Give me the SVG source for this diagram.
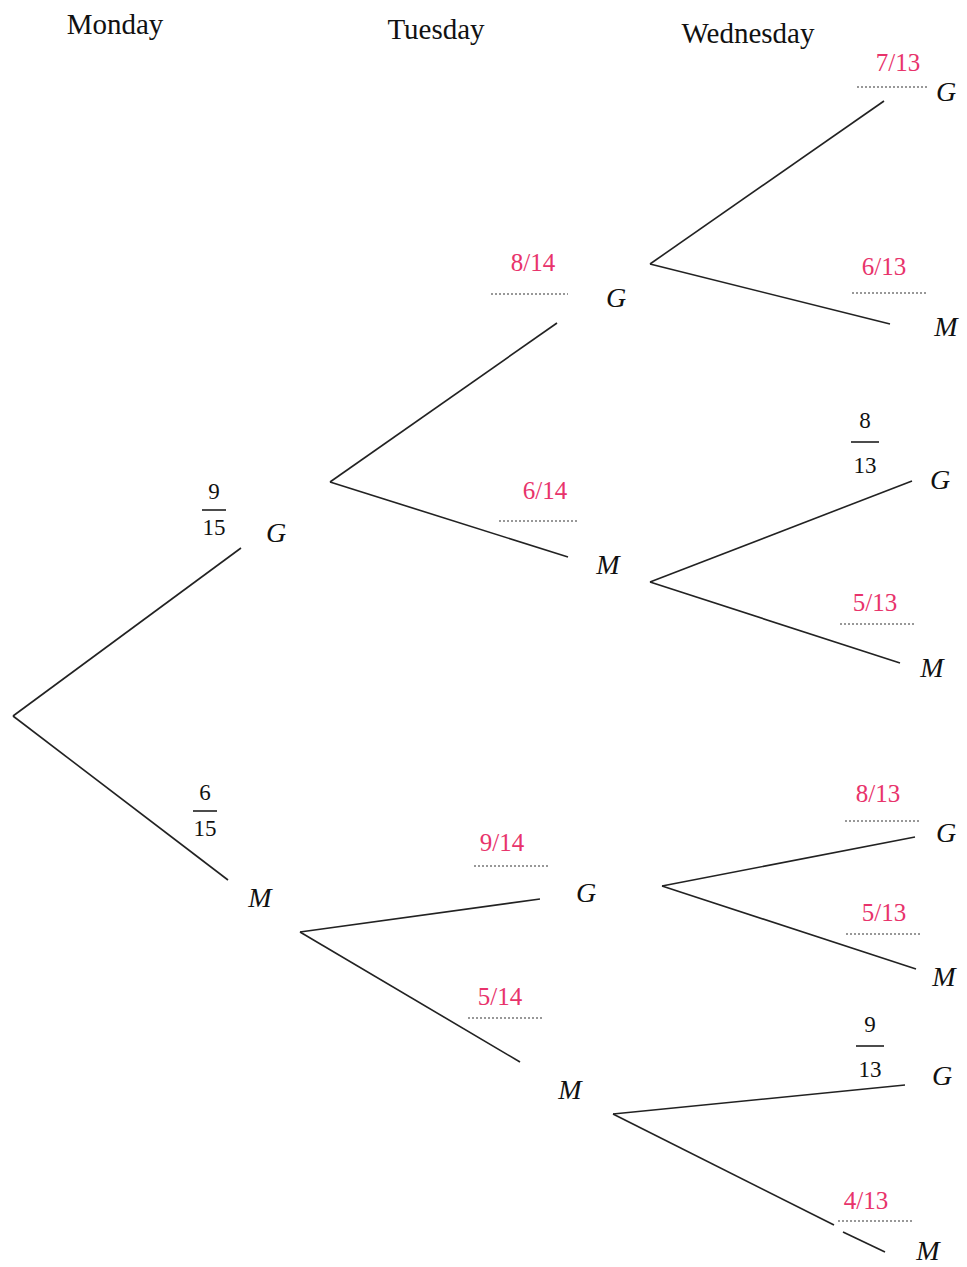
<svg xmlns="http://www.w3.org/2000/svg" width="967" height="1267" viewBox="0 0 967 1267" font-family="'Liberation Serif', 'Times New Roman', Times, serif">
<style>
text{font-family:'Liberation Serif','Times New Roman',Times,serif}
.h{font-size:29px;fill:#111;text-anchor:middle}
.n{font-size:28px;font-style:italic;fill:#111;text-anchor:middle}
.p{font-size:25px;fill:#e8336b;text-anchor:middle}
.f{font-size:23px;fill:#111;text-anchor:middle}
.d{stroke:#777;stroke-width:1.5;stroke-dasharray:2 2;fill:none}
.e{stroke:#222;stroke-width:1.6;fill:none}
.b{stroke:#111;stroke-width:1.5}
</style>
<rect width="967" height="1267" fill="#fff"/>
<g id="headers">
<text class="h" x="115" y="34">Monday</text>
<text class="h" x="436" y="39">Tuesday</text>
<text class="h" x="748" y="43">Wednesday</text>
</g>
<g id="connectors">
<line class="e" x1="13" y1="716" x2="241" y2="548"/>
<line class="e" x1="13" y1="716" x2="228" y2="880"/>
<line class="e" x1="330" y1="482" x2="557" y2="323"/>
<line class="e" x1="330" y1="482" x2="568" y2="557"/>
<line class="e" x1="650" y1="264" x2="884" y2="101"/>
<line class="e" x1="650" y1="264" x2="890" y2="324"/>
<line class="e" x1="650" y1="582" x2="912" y2="481"/>
<line class="e" x1="650" y1="582" x2="900" y2="663"/>
<line class="e" x1="300" y1="932" x2="540" y2="899"/>
<line class="e" x1="300" y1="932" x2="520" y2="1062"/>
<line class="e" x1="662" y1="886" x2="915" y2="837"/>
<line class="e" x1="662" y1="886" x2="916" y2="969"/>
<line class="e" x1="613" y1="1114" x2="905" y2="1085"/>
<line class="e" x1="613" y1="1114" x2="834" y2="1225"/>
<line class="e" x1="843" y1="1232" x2="885" y2="1252"/>
</g>
<g id="mon-G">
<text class="n" x="276" y="542">G</text>
<text class="f" x="214" y="499">9</text>
<line class="b" x1="202" y1="510" x2="226" y2="510"/>
<text class="f" x="214" y="535">15</text>
</g>
<g id="mon-M">
<text class="n" x="260" y="907">M</text>
<text class="f" x="205" y="800">6</text>
<line class="b" x1="193" y1="811" x2="217" y2="811"/>
<text class="f" x="205" y="836">15</text>
</g>
<g id="tue-GG">
<text class="n" x="616" y="307">G</text>
<text class="p" x="533" y="271">8/14</text>
<line class="d" x1="491" y1="294" x2="568" y2="294"/>
</g>
<g id="tue-GM">
<text class="n" x="608" y="574">M</text>
<text class="p" x="545" y="499">6/14</text>
<line class="d" x1="499" y1="521" x2="577" y2="521"/>
</g>
<g id="tue-MG">
<text class="n" x="586" y="902">G</text>
<text class="p" x="502" y="851">9/14</text>
<line class="d" x1="474" y1="866" x2="550" y2="866"/>
</g>
<g id="tue-MM">
<text class="n" x="570" y="1099">M</text>
<text class="p" x="500" y="1005">5/14</text>
<line class="d" x1="468" y1="1018" x2="544" y2="1018"/>
</g>
<g id="wed-GGG">
<text class="n" x="946" y="101">G</text>
<text class="p" x="898" y="71">7/13</text>
<line class="d" x1="857" y1="87" x2="927" y2="87"/>
</g>
<g id="wed-GGM">
<text class="n" x="946" y="336">M</text>
<text class="p" x="884" y="275">6/13</text>
<line class="d" x1="852" y1="293" x2="928" y2="293"/>
</g>
<g id="wed-GMG">
<text class="n" x="940" y="489">G</text>
<text class="f" x="865" y="428">8</text>
<line class="b" x1="851" y1="442" x2="879" y2="442"/>
<text class="f" x="865" y="473">13</text>
</g>
<g id="wed-GMM">
<text class="n" x="932" y="677">M</text>
<text class="p" x="875" y="611">5/13</text>
<line class="d" x1="840" y1="624" x2="916" y2="624"/>
</g>
<g id="wed-MGG">
<text class="n" x="946" y="842">G</text>
<text class="p" x="878" y="802">8/13</text>
<line class="d" x1="845" y1="821" x2="920" y2="821"/>
</g>
<g id="wed-MGM">
<text class="n" x="944" y="986">M</text>
<text class="p" x="884" y="921">5/13</text>
<line class="d" x1="846" y1="934" x2="920" y2="934"/>
</g>
<g id="wed-MMG">
<text class="n" x="942" y="1085">G</text>
<text class="f" x="870" y="1032">9</text>
<line class="b" x1="856" y1="1046" x2="884" y2="1046"/>
<text class="f" x="870" y="1077">13</text>
</g>
<g id="wed-MMM">
<text class="n" x="928" y="1260">M</text>
<text class="p" x="866" y="1209">4/13</text>
<line class="d" x1="838" y1="1221" x2="912" y2="1221"/>
</g>
</svg>
